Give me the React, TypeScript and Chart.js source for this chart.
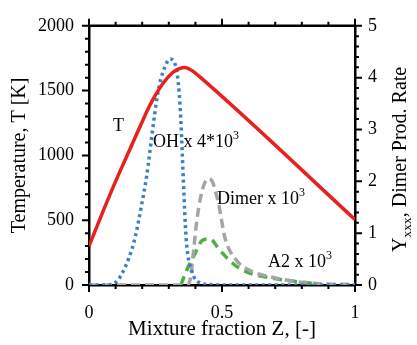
import React, { useEffect, useRef } from "react";
import { Chart, registerables } from "chart.js";

Chart.register(...registerables);

// Mixture fraction grids and values
const zTemp = [0, 0.05, 0.1, 0.15, 0.2, 0.22, 0.24, 0.26, 0.28, 0.3, 0.32, 0.34, 0.36, 0.37, 0.39, 0.42, 1.0];
const temperature = [300, 555, 800, 1030, 1260, 1350, 1430, 1500, 1560, 1610, 1648, 1670, 1678, 1674, 1650, 1600, 505];

const zOH = [0, 0.06, 0.09, 0.11, 0.13, 0.15, 0.173, 0.198, 0.217, 0.239, 0.26, 0.279, 0.305, 0.33, 0.342, 0.348, 0.355, 0.365, 0.386, 0.417, 0.45, 0.55, 1.0];
const ohScaled = [0, 0, 0.02, 0.1, 0.28, 0.52, 0.91, 1.55, 2.11, 2.99, 3.74, 4.12, 4.36, 4.12, 3.49, 2.87, 1.98, 0.91, 0.28, 0.04, 0.01, 0, 0];

const zDimer = [0, 0.37, 0.38, 0.392, 0.405, 0.42, 0.435, 0.452, 0.465, 0.476, 0.488, 0.511, 0.555, 0.605, 0.68, 0.79, 0.9, 1.0];
const dimerScaled = [0, 0, 0.1, 0.6, 1.23, 1.7, 1.97, 2.05, 1.98, 1.8, 1.55, 0.91, 0.47, 0.28, 0.16, 0.06, 0.02, 0.01];

const zA2 = [0.345, 0.367, 0.398, 0.424, 0.455, 0.49, 0.542, 0.58, 0.69, 0.79, 0.86];
const a2Scaled = [0, 0.28, 0.6, 0.85, 0.89, 0.68, 0.41, 0.28, 0.13, 0.06, 0.02];

const xTickValues = [0, 0.5, 1];
const leftTickValues = [0, 500, 1000, 1500, 2000];
const rightTickValues = [0, 1, 2, 3, 4, 5];

const xTitle = "Mixture fraction Z, [-]";
const leftTitle = "Temperature, T [K]";
const rightTitleMain = "Y";
const rightTitleSub = "xxx";
const rightTitleRest = ", Dimer Prod. Rate";

const curveLabels = [
  { text: "T", sup: "", z: 0.09, t: 1185 },
  { text: "OH x 4*10", sup: "3", z: 0.241, t: 1064 },
  { text: "Dimer x 10", sup: "3", z: 0.481, t: 626 },
  { text: "A2 x 10", sup: "3", z: 0.673, t: 136 },
];

const SERIF = "Liberation Serif";

const toPts = (xs: number[], ys: number[]) => xs.map((x, i) => ({ x, y: ys[i] }));

const framePlugin = {
  id: "frameTicks",
  afterDraw(chart: any) {
    const { ctx, chartArea, scales } = chart;
    const { left, right, top, bottom } = chartArea;
    ctx.save();
    ctx.strokeStyle = "#000";
    ctx.lineWidth = 2.5;
    ctx.beginPath();
    ctx.moveTo(left - 1, top);
    ctx.lineTo(right + 1, top);
    ctx.stroke();

    ctx.lineWidth = 2;
    ctx.beginPath();
    // x ticks (top & bottom), minor every 0.1
    for (let i = 0; i <= 10; i++) {
      const v = i / 10;
      const px = scales.x.getPixelForValue(v);
      const major = xTickValues.some((t) => Math.abs(t - v) < 1e-9);
      const len = major ? 7 : 4;
      ctx.moveTo(px, bottom);
      ctx.lineTo(px, bottom + len);
      ctx.moveTo(px, top);
      ctx.lineTo(px, top - len);
    }
    // left ticks, minor every 100
    for (let v = 0; v <= 2000; v += 100) {
      const py = scales.y.getPixelForValue(v);
      const major = leftTickValues.includes(v);
      const len = major ? 7 : 4;
      ctx.moveTo(left, py);
      ctx.lineTo(left - len, py);
    }
    // right ticks, minor every 0.2
    for (let i = 0; i <= 25; i++) {
      const v = i * 0.2;
      const py = scales.y2.getPixelForValue(v);
      const major = i % 5 === 0;
      const len = major ? 7 : 4;
      ctx.moveTo(right, py);
      ctx.lineTo(right + len, py);
    }
    ctx.stroke();

    // curve labels
    ctx.fillStyle = "#000";
    ctx.textBaseline = "alphabetic";
    ctx.textAlign = "left";
    for (const lab of curveLabels) {
      const x = scales.x.getPixelForValue(lab.z);
      const y = scales.y.getPixelForValue(lab.t);
      ctx.font = `18px "${SERIF}"`;
      ctx.fillText(lab.text, x, y);
      if (lab.sup) {
        const w = ctx.measureText(lab.text).width;
        ctx.font = `12px "${SERIF}"`;
        ctx.fillText(lab.sup, x + w, y - 8);
      }
    }

    // right axis title (rotated, reading bottom to top), starting near the bottom
    const bx = 406;
    const startY = bottom - 33;
    ctx.save();
    ctx.translate(bx, startY);
    ctx.rotate(-Math.PI / 2);
    let x0 = 0;
    ctx.font = `20px "${SERIF}"`;
    ctx.fillText(rightTitleMain, x0, 0);
    x0 += ctx.measureText(rightTitleMain).width;
    ctx.font = `13.5px "${SERIF}"`;
    ctx.fillText(rightTitleSub, x0, 5);
    x0 += ctx.measureText(rightTitleSub).width;
    ctx.font = `20px "${SERIF}"`;
    ctx.fillText(rightTitleRest, x0, 0);
    ctx.restore();

    ctx.restore();
  },
};

export default function App() {
  const ref = useRef<HTMLCanvasElement | null>(null);

  useEffect(() => {
    if (!ref.current) return;
    Chart.defaults.color = "#000";
    Chart.defaults.font.family = SERIF;
    const tickFont = { family: SERIF, size: 18, style: "normal" as const, weight: "normal" as const };
    const chart = new Chart(ref.current, {
      type: "line",
      data: {
        datasets: [
          {
            label: "T",
            data: toPts(zTemp, temperature),
            yAxisID: "y",
            borderColor: "#e8211f",
            borderWidth: 3.5,
            pointRadius: 0,
            cubicInterpolationMode: "monotone",
          },
          {
            label: "OH",
            data: toPts(zOH, ohScaled),
            yAxisID: "y2",
            borderColor: "#3a80c6",
            borderWidth: 3.5,
            borderDash: [3, 3.5],
            pointRadius: 0,
            cubicInterpolationMode: "monotone",
          },
          {
            label: "Dimer",
            data: toPts(zDimer, dimerScaled),
            yAxisID: "y2",
            borderColor: "#a5a5a5",
            borderWidth: 3.5,
            borderDash: [9, 5],
            pointRadius: 0,
            cubicInterpolationMode: "monotone",
          },
          {
            label: "A2",
            data: toPts(zA2, a2Scaled),
            yAxisID: "y2",
            borderColor: "#4caf44",
            borderWidth: 3.5,
            borderDash: [9, 6],
            pointRadius: 0,
            cubicInterpolationMode: "monotone",
          },
        ],
      },
      options: {
        animation: false,
        responsive: false,
        devicePixelRatio: 1,
        font: { family: SERIF },
        layout: { padding: { top: 20, left: 0, right: 0, bottom: 0 } },
        plugins: { legend: { display: false }, tooltip: { enabled: false } },
        scales: {
          x: {
            type: "linear",
            min: 0,
            max: 1,
            afterBuildTicks: (s: any) => {
              s.ticks = xTickValues.map((v) => ({ value: v }));
            },
            afterFit: (s: any) => {
              s.height = 60;
            },
            grid: { display: false, drawTicks: false },
            border: { display: true, color: "#000", width: 2.5 },
            ticks: {
              font: tickFont,
              color: "#000",
              padding: 17,
              maxRotation: 0,
              callback: (v: any) => String(v),
            },
            title: {
              display: true,
              text: xTitle,
              font: { family: SERIF, size: 21 },
              color: "#000",
              padding: { top: 0, bottom: 3 },
            },
          },
          y: {
            type: "linear",
            position: "left",
            min: 0,
            max: 2000,
            afterBuildTicks: (s: any) => {
              s.ticks = leftTickValues.map((v) => ({ value: v }));
            },
            afterFit: (s: any) => {
              s.width = 89;
            },
            grid: { display: false, drawTicks: false },
            border: { display: true, color: "#000", width: 2.5 },
            ticks: {
              font: tickFont,
              color: "#000",
              padding: 15,
              callback: (v: any) => String(v),
            },
            title: {
              display: true,
              text: leftTitle,
              font: { family: SERIF, size: 20 },
              color: "#000",
              padding: { top: 8, bottom: 0 },
            },
          },
          y2: {
            type: "linear",
            position: "right",
            min: 0,
            max: 5,
            afterBuildTicks: (s: any) => {
              s.ticks = rightTickValues.map((v) => ({ value: v }));
            },
            afterFit: (s: any) => {
              s.width = 62;
            },
            grid: { display: false, drawTicks: false },
            border: { display: true, color: "#000", width: 2.5 },
            ticks: {
              font: tickFont,
              color: "#000",
              padding: 13,
              callback: (v: any) => String(v),
            },
          },
        },
      },
      plugins: [framePlugin],
    } as any);
    return () => chart.destroy();
  }, []);

  return (
    <div style={{ position: "absolute", left: 0, top: 0, width: 417, height: 345, background: "#fff" }}>
      <canvas ref={ref} width={417} height={345} />
    </div>
  );
}
